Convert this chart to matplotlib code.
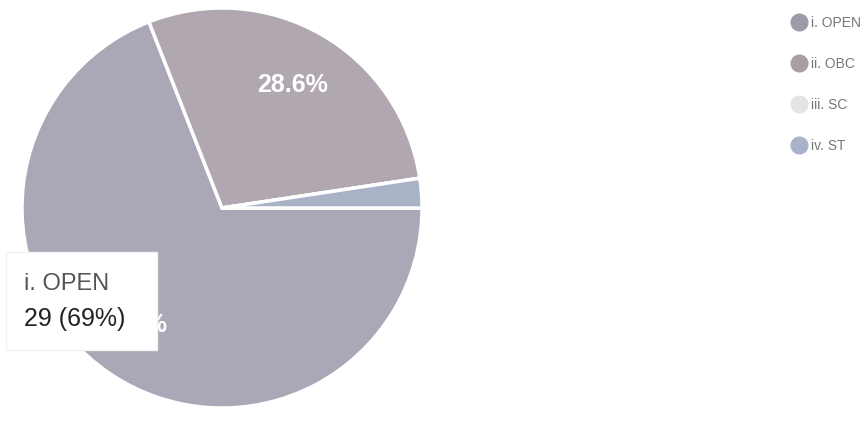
import matplotlib
matplotlib.use("Agg")
import matplotlib.pyplot as plt
from matplotlib.patches import Rectangle
from matplotlib.lines import Line2D

plt.rcParams['font.family'] = ['Liberation Sans', 'DejaVu Sans']

categories = ["i. OPEN", "ii. OBC", "iii. SC", "iv. ST"]
counts = [29, 12, 0, 1]
slice_colors = ["#aba7b7", "#b1a7b1", "#e6e6e6", "#a9b3c8"]
legend_colors = ["#9d9aa9", "#a99ea4", "#e4e4e4", "#a8b3cb"]

W, H = 862, 425
fig = plt.figure(figsize=(W / 100, H / 100), dpi=100)
fig.patch.set_facecolor("white")

# pie axes: circle from x 22..422, y 8..408 (pixels from top)
ax = fig.add_axes([22 / W, (H - 408) / H, 400 / W, 400 / H])
ax.axis("off")

total = sum(counts)


def fmt(p):
    if p < 5:
        return ""
    s = f"{p:.1f}"
    if s.endswith(".0"):
        s = s[:-2]
    return s + "%"


wedges, texts, autotexts = ax.pie(
    counts, colors=slice_colors, startangle=0, counterclock=False,
    radius=1.0, autopct=fmt, pctdistance=0.71,
    wedgeprops=dict(edgecolor="white", linewidth=2.5),
    textprops=dict(color="white", fontsize=18, fontweight="bold"),
)
ax.set_xlim(-1, 1)
ax.set_ylim(-1, 1)
ax.set_aspect("equal")

# tooltip box
box = Rectangle((6 / W, (H - 350) / H), (157 - 6) / W, (350 - 252) / H,
                transform=fig.transFigure, facecolor="white", edgecolor="#f2f2f2",
                linewidth=1, zorder=10)
fig.add_artist(box)
idx = 0
fig.text(24 / W, 1 - 284 / H, categories[idx], fontsize=17, color="#555555",
         va="center", ha="left", zorder=11)
fig.text(24 / W, 1 - 319 / H, f"{counts[idx]} ({round(100 * counts[idx] / total)}%)",
         fontsize=18, color="#222222", va="center", ha="left", zorder=11)

handles = [Line2D([0], [0], marker="o", linestyle="none", markersize=12,
                  markerfacecolor=c, markeredgecolor=c) for c in legend_colors]
leg = fig.legend(handles, categories, loc="upper left",
                 bbox_to_anchor=(787 / W, 1 - 10 / H), frameon=False,
                 fontsize=10, labelspacing=1.95, handletextpad=0.3,
                 handlelength=1.0, borderaxespad=0)
for t in leg.get_texts():
    t.set_color("#777777")

fig.savefig("out.png", dpi=100, facecolor="white")
